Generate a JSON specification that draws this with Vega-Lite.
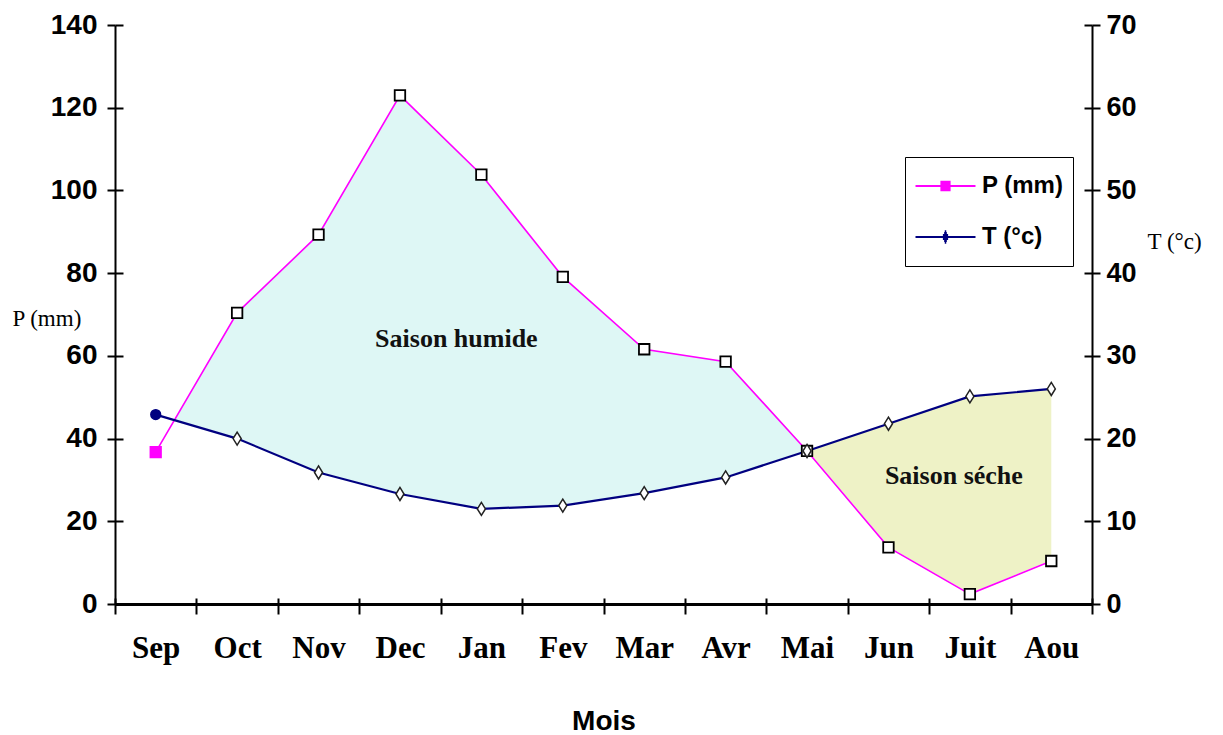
{
  "$schema": "https://vega.github.io/schema/vega-lite/v6.json",
  "width": 977,
  "height": 579,
  "autosize": {"type": "none"},
  "padding": {"left": 115, "top": 25, "right": 131, "bottom": 131},
  "background": "white",
  "config": {"view": {"stroke": null}, "axis": {"grid": false}},
  "datasets": {
    "clim": [
      {"mois": "Sep", "P": 36.7, "T": 22.9},
      {"mois": "Oct", "P": 70.4, "T": 20.0},
      {"mois": "Nov", "P": 89.3, "T": 15.9},
      {"mois": "Dec", "P": 123.0, "T": 13.3},
      {"mois": "Jan", "P": 103.8, "T": 11.5},
      {"mois": "Fev", "P": 79.1, "T": 11.9},
      {"mois": "Mar", "P": 61.6, "T": 13.4},
      {"mois": "Avr", "P": 58.6, "T": 15.3},
      {"mois": "Mai", "P": 37.0, "T": 18.5},
      {"mois": "Jun", "P": 13.7, "T": 21.8},
      {"mois": "Juit", "P": 2.4, "T": 25.1},
      {"mois": "Aou", "P": 10.4, "T": 26.0}
    ],
    "note": [{}]
  },
  "data": {"name": "clim"},
  "resolve": {"scale": {"x": "independent", "y": "independent"}},
  "layer": [
    {
      "transform": [{"filter": {"field": "mois", "oneOf": ["Sep","Oct","Nov","Dec","Jan","Fev","Mar","Avr","Mai"]}}],
      "mark": {"type": "area", "color": "#def7f5", "opacity": 1},
      "encoding": {
        "x": {"field": "mois", "type": "ordinal", "bandPosition": 0.5,
          "scale": {"type": "band", "domain": ["Sep","Oct","Nov","Dec","Jan","Fev","Mar","Avr","Mai","Jun","Juit","Aou"], "paddingInner": 0, "paddingOuter": 0},
          "axis": {"orient": "bottom", "title": "Mois", "zindex": 1, "tickBand": "extent", "tickSize": 10, "tickWidth": 2, "tickColor": "black", "domainColor": "black", "domainWidth": 3,
            "labelFont": "Liberation Serif", "labelFontWeight": "bold", "labelFontSize": 31, "labelColor": "black", "labelPadding": 19, "labelAngle": 0,
            "titleFont": "Liberation Sans", "titleFontWeight": "bold", "titleFontSize": 28, "titleColor": "black", "titleBaseline": "alphabetic", "titleY": 125}},
        "y": {"field": "P", "type": "quantitative",
          "scale": {"domain": [0, 140], "nice": false, "zero": true},
          "axis": {"orient": "left", "values": [0,20,40,60,80,100,120,140], "zindex": 1, "tickSize": 8, "tickWidth": 2, "tickColor": "black", "domainColor": "black", "domainWidth": 2,
            "labelFont": "Liberation Sans", "labelFontWeight": "bold", "labelFontSize": 28, "labelColor": "black", "labelPadding": 10,
            "title": "P (mm)", "titleFont": "Liberation Serif", "titleFontWeight": "normal", "titleFontSize": 23, "titleColor": "black", "titleAngle": 0, "titleAlign": "left", "titleBaseline": "middle", "titleX": -103, "titleY": 293}}
      }
    },
    {
      "transform": [{"filter": {"field": "mois", "oneOf": ["Sep","Oct","Nov","Dec","Jan","Fev","Mar","Avr","Mai"]}}],
      "mark": {"type": "area", "color": "white", "stroke": "white", "strokeWidth": 1.5, "opacity": 1},
      "encoding": {
        "x": {"field": "mois", "type": "ordinal", "bandPosition": 0.5,
          "scale": {"type": "band", "domain": ["Sep","Oct","Nov","Dec","Jan","Fev","Mar","Avr","Mai","Jun","Juit","Aou"], "paddingInner": 0, "paddingOuter": 0},
          "axis": {"orient": "bottom", "title": null, "labels": false, "domain": false, "zindex": 1, "tickBand": "extent", "tickSize": -6, "tickWidth": 2, "tickColor": "black"}},
        "y": {"field": "T", "type": "quantitative",
          "scale": {"domain": [0, 70], "nice": false, "zero": true},
          "axis": {"orient": "right", "values": [0,10,20,30,40,50,60,70], "zindex": 1, "tickSize": 8, "tickWidth": 2, "tickColor": "black", "domainColor": "black", "domainWidth": 2,
            "labelFont": "Liberation Sans", "labelFontWeight": "bold", "labelFontSize": 27, "labelColor": "black", "labelPadding": 6,
            "title": "T (°c)", "titleFont": "Liberation Serif", "titleFontWeight": "normal", "titleFontSize": 23, "titleColor": "black", "titleAngle": 0, "titleAlign": "left", "titleBaseline": "middle", "titleX": 55, "titleY": 216}}
      }
    },
    {
      "transform": [{"filter": {"field": "mois", "oneOf": ["Mai","Jun","Juit","Aou"]}}],
      "mark": {"type": "area", "color": "#eef2c6", "opacity": 1},
      "encoding": {
        "x": {"field": "mois", "type": "ordinal", "bandPosition": 0.5,
          "scale": {"type": "band", "domain": ["Sep","Oct","Nov","Dec","Jan","Fev","Mar","Avr","Mai","Jun","Juit","Aou"], "paddingInner": 0, "paddingOuter": 0}, "axis": null},
        "y": {"field": "T", "type": "quantitative", "scale": {"domain": [0, 70], "nice": false}, "axis": null}
      }
    },
    {
      "transform": [{"filter": {"field": "mois", "oneOf": ["Mai","Jun","Juit","Aou"]}}],
      "mark": {"type": "area", "color": "white", "stroke": "white", "strokeWidth": 1.5, "opacity": 1},
      "encoding": {
        "x": {"field": "mois", "type": "ordinal", "bandPosition": 0.5,
          "scale": {"type": "band", "domain": ["Sep","Oct","Nov","Dec","Jan","Fev","Mar","Avr","Mai","Jun","Juit","Aou"], "paddingInner": 0, "paddingOuter": 0}, "axis": null},
        "y": {"field": "P", "type": "quantitative", "scale": {"domain": [0, 140], "nice": false}, "axis": null}
      }
    },
    {
      "mark": {"type": "line", "color": "#ff00ff", "strokeWidth": 1.6},
      "encoding": {
        "x": {"field": "mois", "type": "ordinal", "bandPosition": 0.5,
          "scale": {"type": "band", "domain": ["Sep","Oct","Nov","Dec","Jan","Fev","Mar","Avr","Mai","Jun","Juit","Aou"], "paddingInner": 0, "paddingOuter": 0}, "axis": null},
        "y": {"field": "P", "type": "quantitative", "scale": {"domain": [0, 140], "nice": false},
          "axis": {"orient": "left", "values": [0,20,40,60,80,100,120,140], "labels": false, "domain": false, "title": null, "zindex": 1, "tickSize": -8, "tickWidth": 2, "tickColor": "black"}}
      }
    },
    {
      "mark": {"type": "line", "color": "#000080", "strokeWidth": 2.2},
      "encoding": {
        "x": {"field": "mois", "type": "ordinal", "bandPosition": 0.5,
          "scale": {"type": "band", "domain": ["Sep","Oct","Nov","Dec","Jan","Fev","Mar","Avr","Mai","Jun","Juit","Aou"], "paddingInner": 0, "paddingOuter": 0}, "axis": null},
        "y": {"field": "T", "type": "quantitative", "scale": {"domain": [0, 70], "nice": false},
          "axis": {"orient": "right", "values": [0,10,20,30,40,50,60,70], "labels": false, "domain": false, "title": null, "zindex": 1, "tickSize": -8, "tickWidth": 2, "tickColor": "black"}}
      }
    },
    {
      "mark": {"type": "point", "shape": "square", "size": 110, "strokeWidth": 1.8, "opacity": 1},
      "encoding": {
        "x": {"field": "mois", "type": "ordinal", "bandPosition": 0.5,
          "scale": {"type": "band", "domain": ["Sep","Oct","Nov","Dec","Jan","Fev","Mar","Avr","Mai","Jun","Juit","Aou"], "paddingInner": 0, "paddingOuter": 0}, "axis": null},
        "y": {"field": "P", "type": "quantitative", "scale": {"domain": [0, 140], "nice": false}, "axis": null},
        "fill": {"condition": {"test": "datum.mois === 'Sep'", "value": "#ff00ff"}, "value": "white"},
        "stroke": {"condition": {"test": "datum.mois === 'Sep'", "value": "#ff00ff"}, "value": "black"}
      }
    },
    {
      "mark": {"type": "point", "size": 170, "strokeWidth": 1.5, "opacity": 1},
      "encoding": {
        "x": {"field": "mois", "type": "ordinal", "bandPosition": 0.5,
          "scale": {"type": "band", "domain": ["Sep","Oct","Nov","Dec","Jan","Fev","Mar","Avr","Mai","Jun","Juit","Aou"], "paddingInner": 0, "paddingOuter": 0}, "axis": null},
        "y": {"field": "T", "type": "quantitative", "scale": {"domain": [0, 70], "nice": false}, "axis": null},
        "shape": {"condition": {"test": "datum.mois === 'Sep'", "value": "M0,-0.75A0.75,0.75,0,1,1,0,0.75A0.75,0.75,0,1,1,0,-0.75Z"}, "value": "M0,-1L0.62,0L0,1L-0.62,0Z"},
        "fill": {"condition": {"test": "datum.mois === 'Sep'", "value": "#000080"}, "value": "white"},
        "stroke": {"condition": {"test": "datum.mois === 'Sep'", "value": "#000080"}, "value": "#222222"}
      }
    },
    {
      "transform": [{"fold": ["P", "T"], "as": ["serie", "val"]}, {"filter": "false"}],
      "mark": {"type": "point", "filled": false, "opacity": 1},
      "encoding": {
        "x": {"field": "mois", "type": "ordinal", "bandPosition": 0.5,
          "scale": {"type": "band", "domain": ["Sep","Oct","Nov","Dec","Jan","Fev","Mar","Avr","Mai","Jun","Juit","Aou"], "paddingInner": 0, "paddingOuter": 0}, "axis": null},
        "y": {"field": "val", "type": "quantitative", "scale": {"domain": [0, 140], "nice": false}, "axis": null},
        "color": {"field": "serie", "type": "nominal",
          "scale": {"domain": ["P", "T"], "range": ["#ff00ff", "#000080"]},
          "legend": {"title": null, "orient": "none", "legendX": 790, "legendY": 132, "direction": "vertical", "padding": 9,
            "fillColor": "white", "strokeColor": "black", "symbolSize": 3600, "clipHeight": 40, "rowPadding": 11, "symbolStrokeWidth": 2.2,
            "labelFont": "Liberation Sans", "labelFontWeight": "bold", "labelFontSize": 24, "labelColor": "black", "labelOffset": 5,
            "labelExpr": "datum.label === 'P' ? 'P (mm)' : 'T (°c)'",
            "encode": {"legend": {"update": {"strokeWidth": {"value": 2}}}}}},
        "shape": {"field": "serie", "type": "nominal",
          "scale": {"domain": ["P", "T"], "range": [
            "M-1,0H1M-0.17,-0.14H0.17M-0.17,-0.07H0.17M-0.17,0.07H0.17M-0.17,0.14H0.17",
            "M-1,0H1M-0.025,-0.19H0.025M-0.045,-0.13H0.045M-0.087,-0.067H0.087M-0.087,0.067H0.087M-0.045,0.13H0.045M-0.025,0.19H0.025"]},
          "legend": {"title": null, "orient": "none", "legendX": 790, "legendY": 132, "direction": "vertical", "padding": 9,
            "fillColor": "white", "strokeColor": "black", "symbolSize": 3600, "clipHeight": 40, "rowPadding": 11, "symbolStrokeWidth": 2.2,
            "labelFont": "Liberation Sans", "labelFontWeight": "bold", "labelFontSize": 24, "labelColor": "black", "labelOffset": 5,
            "labelExpr": "datum.label === 'P' ? 'P (mm)' : 'T (°c)'",
            "encode": {"legend": {"update": {"strokeWidth": {"value": 2}}}}}}
      }
    },
    {
      "data": {"name": "note"},
      "mark": {"type": "text", "text": "Saison humide", "font": "Liberation Serif", "fontWeight": "bold", "fontSize": 26, "color": "#111111", "align": "center", "baseline": "middle", "dx": -25},
      "encoding": {
        "x": {"datum": "Jan", "type": "ordinal", "bandPosition": 0.5,
          "scale": {"type": "band", "domain": ["Sep","Oct","Nov","Dec","Jan","Fev","Mar","Avr","Mai","Jun","Juit","Aou"], "paddingInner": 0, "paddingOuter": 0}, "axis": null},
        "y": {"datum": 64, "type": "quantitative", "scale": {"domain": [0, 140], "nice": false}, "axis": null}
      }
    },
    {
      "data": {"name": "note"},
      "mark": {"type": "text", "text": "Saison séche", "font": "Liberation Serif", "fontWeight": "bold", "fontSize": 26, "color": "#111111", "align": "center", "baseline": "middle", "dx": -16},
      "encoding": {
        "x": {"datum": "Juit", "type": "ordinal", "bandPosition": 0.5,
          "scale": {"type": "band", "domain": ["Sep","Oct","Nov","Dec","Jan","Fev","Mar","Avr","Mai","Jun","Juit","Aou"], "paddingInner": 0, "paddingOuter": 0}, "axis": null},
        "y": {"datum": 31, "type": "quantitative", "scale": {"domain": [0, 140], "nice": false}, "axis": null}
      }
    }
  ]
}
